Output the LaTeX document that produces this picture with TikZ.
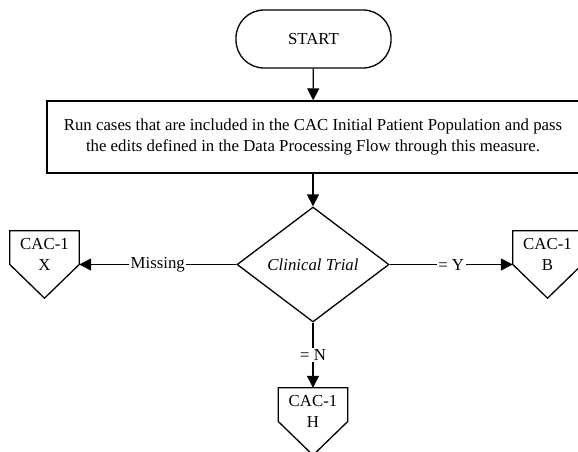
\documentclass[tikz,border=0pt]{standalone}
\usepackage{fontspec}
\setmainfont{Liberation Serif}
\usetikzlibrary{arrows.meta,shapes.geometric}
\begin{document}
\begin{tikzpicture}[x=1pt,y=-1pt,
  every node/.style={font=\fontsize{16.8}{21.5}\selectfont},
  line/.style={line width=1.3pt},
  arr/.style={line, -{Triangle[length=12pt,width=12pt]}},
  terminal/.style={draw, line width=1.3pt, rectangle, rounded corners=28pt, minimum width=155pt, minimum height=58pt, inner sep=0pt},
  process/.style={draw, line width=1.3pt, rectangle, minimum width=532pt, minimum height=72pt, inner sep=0pt, align=center},
  decision/.style={draw, line width=1.3pt, diamond, minimum width=152pt, minimum height=115pt, inner sep=0pt, font=\fontsize{16.8}{21.5}\selectfont\itshape},
  offpage/.style={rectangle, minimum width=69pt, minimum height=67pt, inner sep=0pt},
  offtext/.style={anchor=north, align=center, inner sep=0pt},
  lbl/.style={fill=white, inner sep=1.5pt}
]
\useasboundingbox (0,0) rectangle (578,451);
\node[terminal] (start) at (313.5,39) {START};
\node[process] (run) at (313,137) {Run cases that are included in the CAC Initial Patient Population and pass\\the edits defined in the Data Processing Flow through this measure.};
\node[decision] (ct) at (313,264.5) {Clinical Trial};
\node[offpage] (px) at (44.5,264.5) {};
\node[offpage] (pb) at (547.5,264.5) {};
\node[offpage] (ph) at (313,421.5) {};
\foreach \p in {px,pb,ph}{
  \draw[line, line join=miter] (\p.north west) -- (\p.north east) -- (\p.east) -- (\p.south) -- (\p.west) -- cycle;
}
\node[offtext] (tx) at ([yshift=-7pt]px.north) {CAC-1\\X};
\node[offtext] (tb) at ([yshift=-7pt]pb.north) {CAC-1\\B};
\node[offtext] (th) at ([yshift=-7pt]ph.north) {CAC-1\\H};
\draw[arr] (start) -- (run);
\draw[arr] (run) -- (ct);
\draw[arr] (ct.west) -- node[lbl, pos=0.5] {Missing} (px.east);
\draw[arr] (ct.east) -- node[lbl, pos=0.5] {= Y} (pb.west);
\draw[arr] (ct.south) -- node[lbl, pos=0.5] {= N} (ph.north);
\end{tikzpicture}
\end{document}
